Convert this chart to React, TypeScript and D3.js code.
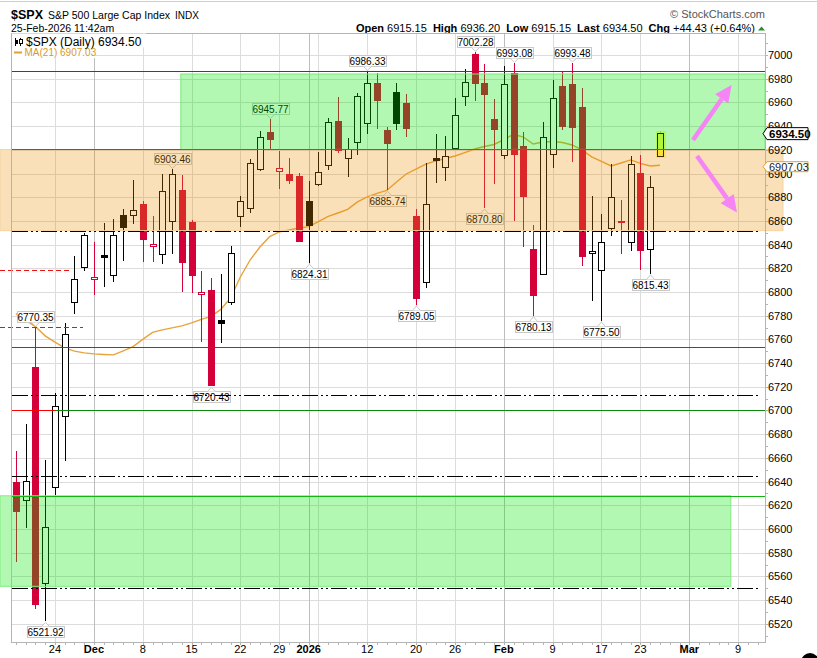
import React from "react";
import * as d3 from "d3";

// trading days shown (Nov 18 2025 .. Feb 25 2026)
const dates = [
  "2025-11-18", "2025-11-19", "2025-11-20", "2025-11-21", "2025-11-24", "2025-11-25", "2025-11-26", "2025-11-28",
  "2025-12-01", "2025-12-02", "2025-12-03", "2025-12-04", "2025-12-05", "2025-12-08", "2025-12-09", "2025-12-10",
  "2025-12-11", "2025-12-12", "2025-12-15", "2025-12-16", "2025-12-17", "2025-12-18", "2025-12-19", "2025-12-22",
  "2025-12-23", "2025-12-24", "2025-12-26", "2025-12-29", "2025-12-30", "2025-12-31", "2026-01-02", "2026-01-05",
  "2026-01-06", "2026-01-07", "2026-01-08", "2026-01-09", "2026-01-12", "2026-01-13", "2026-01-14", "2026-01-15",
  "2026-01-16", "2026-01-20", "2026-01-21", "2026-01-22", "2026-01-23", "2026-01-26", "2026-01-27", "2026-01-28",
  "2026-01-29", "2026-01-30", "2026-02-02", "2026-02-03", "2026-02-04", "2026-02-05", "2026-02-06", "2026-02-09",
  "2026-02-10", "2026-02-11", "2026-02-12", "2026-02-13", "2026-02-17", "2026-02-18", "2026-02-19", "2026-02-20",
  "2026-02-23", "2026-02-24", "2026-02-25",
];
const futureDates = [
  "2026-02-26", "2026-02-27", "2026-03-02", "2026-03-03", "2026-03-04", "2026-03-05", "2026-03-06", "2026-03-09",
  "2026-03-10", "2026-03-11",
];

const opens = [
  6640, 6624.6, 6737, 6554.3, 6635.3, 6695.5, 6791.9, 6820.6, 6810.5, 6831, 6813.8, 6865, 6864.8, 6874.3, 6838.8,
  6831.9, 6859.4, 6886.1, 6859.4, 6798.8, 6801.8, 6776.4, 6791.4, 6864.2, 6870.7, 6903.6, 6934.8, 6901.6, 6899.6,
  6898.2, 6876.8, 6890.9, 6906.6, 6944.6, 6912.9, 6926.4, 6942.4, 6976.6, 6936.7, 6969, 6959.8, 6864.2, 6808.8,
  6913.4, 6905.8, 6921.8, 6964.8, 7000.8, 6976.6, 6946, 6915, 6984.6, 6923.2, 6836.1, 6815.3, 6916.2, 6973.8,
  6975.5, 6955.9, 6832.7, 6818.6, 6853.8, 6859.5, 6842, 6900.7, 6836, 6915.15,
];
const highs = [
  6665.4, 6688.7, 6770.35, 6658.3, 6714.9, 6774.2, 6830.4, 6850.1, 6842.5, 6858.5, 6861.4, 6870, 6894.6, 6877.1,
  6864.2, 6899.4, 6903.46, 6898.8, 6860.8, 6817.8, 6811.6, 6815.3, 6838.9, 6881.3, 6912, 6935.9, 6945.77, 6919.3,
  6912.9, 6900.5, 6894, 6918.4, 6947.1, 6964.3, 6929.7, 6967.7, 6986.33, 6985.1, 6939.5, 6976.1, 6967.1, 6869.8,
  6908.6, 6933.1, 6931.7, 6963.5, 6987.9, 7002.28, 6992.2, 6962.9, 6990.7, 6993.08, 6934.8, 6856.6, 6943.2, 6978.9,
  6985.9, 6993.48, 6971.9, 6881.3, 6865.9, 6908.1, 6877.7, 6914.8, 6915.6, 6897.9, 6936.2,
];
const lows = [
  6572.5, 6601.2, 6532.4, 6521.92, 6628.8, 6657.7, 6781.5, 6817.8, 6797.5, 6804.5, 6808.5, 6826, 6857.2, 6825.6,
  6825.6, 6823.4, 6831.9, 6800.3, 6799.5, 6758.1, 6720.43, 6756.8, 6789, 6855.2, 6867, 6902, 6920.4, 6886.7, 6891.2,
  6842, 6824.31, 6889.5, 6903, 6917.6, 6897.3, 6915.6, 6933.1, 6937.3, 6885.74, 6936.7, 6931.1, 6789.05, 6803.2,
  6892.3, 6894, 6920.4, 6957.2, 6961.4, 6870.8, 6891.2, 6912, 6860.2, 6837.8, 6780.13, 6815.3, 6904.4, 6936.7, 6910,
  6822, 6792.7, 6775.5, 6847.3, 6831.9, 6834.9, 6818.6, 6815.43, 6915.15,
];
const closes = [
  6615.6, 6640.6, 6536.6, 6601.6, 6703.9, 6764.6, 6811, 6847.9, 6812.6, 6829.4, 6847.9, 6855.2, 6869.2, 6845,
  6840.5, 6885, 6899.4, 6825.6, 6814.4, 6800.3, 6721.4, 6773.6, 6832.7, 6877.1, 6908.6, 6930.6, 6928.9, 6904.4,
  6894.5, 6843.1, 6856.6, 6901, 6943.2, 6919.9, 6920.7, 6965.4, 6976.1, 6962.6, 6925.5, 6942.9, 6938.7, 6795.3,
  6874.3, 6912, 6914.8, 6949.4, 6977, 6976.3, 6967.7, 6937.3, 6975.3, 6916.2, 6881.3, 6797, 6930.6, 6963.5, 6940.4,
  6939.5, 6830.4, 6834.7, 6842, 6880, 6860, 6907.8, 6836, 6888.4, 6934.5,
];
const priorClose = 6672.4;

// 21-day moving average as plotted
const ma21 = [
  6781.8, 6776.2, 6770.8, 6763, 6757.7, 6752.8, 6750.1, 6748.6, 6747.8, 6747.3, 6746.9, 6750.3, 6753.9, 6760,
  6765.9, 6768, 6769.7, 6771.4, 6773.9, 6776.9, 6779.4, 6785.3, 6795, 6812.7, 6827, 6838, 6846.7, 6850.7, 6852.4,
  6854, 6855.2, 6859.5, 6863.8, 6866.7, 6869.7, 6876, 6880.2, 6883.2, 6885.7, 6892.9, 6899.6, 6903.8, 6908,
  6910.6, 6912.7, 6914.8, 6917.7, 6920.7, 6922.8, 6924.5, 6928.7, 6933.1, 6930.8, 6924.9, 6926.6, 6927, 6926.2,
  6924.1, 6919.9, 6914, 6910.2, 6906.4, 6908.9, 6911.5, 6908.5, 6906.4, 6907.03,
];

// annotated highs / lows
const markDates = [
  "2025-11-20", "2025-11-21", "2025-12-11", "2025-12-17", "2025-12-26", "2026-01-02", "2026-01-12", "2026-01-14",
  "2026-01-20", "2026-01-28", "2026-01-29", "2026-02-03", "2026-02-05", "2026-02-11", "2026-02-17", "2026-02-24",
];
const markValues = [
  6770.35, 6521.92, 6903.46, 6720.43, 6945.77, 6824.31, 6986.33, 6885.74, 6789.05, 7002.28, 6870.8, 6993.08,
  6780.13, 6993.48, 6775.5, 6815.43,
];
const markSides = [
  "above", "below", "above", "below", "above", "below", "above", "below", "below", "above", "below", "above",
  "below", "above", "below", "below",
];

const yTickValues = [
  6520, 6540, 6560, 6580, 6600, 6620, 6640, 6660, 6680, 6700, 6720, 6740, 6760, 6780, 6800, 6820, 6840, 6860,
  6880, 6900, 6920, 6940, 6960, 6980, 7000,
];
const gridDates = [
  "2025-11-24", "2025-12-01", "2025-12-08", "2025-12-15", "2025-12-22", "2025-12-29", "2026-01-02", "2026-01-05",
  "2026-01-12", "2026-01-20", "2026-01-26", "2026-02-02", "2026-02-09", "2026-02-17", "2026-02-23", "2026-03-02",
  "2026-03-09",
];
const monthDates = ["2025-12-01", "2026-01-02", "2026-02-02", "2026-03-02"];
const tickDates = [
  "2025-11-24", "2025-12-01", "2025-12-08", "2025-12-15", "2025-12-22", "2025-12-29", "2026-01-02", "2026-01-12",
  "2026-01-20", "2026-01-26", "2026-02-02", "2026-02-09", "2026-02-17", "2026-02-23", "2026-03-02", "2026-03-09",
];
const tickLabels = ["24", "Dec", "8", "15", "22", "29", "2026", "12", "20", "26", "Feb", "9", "17", "23", "Mar", "9"];

const W = 817;
const H = 658;
const L = 11.5;
const R = 765;
const T = 33;
const B = 642;
const FONT = '"Liberation Sans", Arial, Helvetica, sans-serif';
const RED = "#d4003a";
const GREEN_FILL = "rgb(0,230,0)";
const ORANGE_FILL = "rgb(232,145,0)";

const allDays = dates.concat(futureDates);
const idx = (d: string) => allDays.indexOf(d);

export default function App() {
  const x = d3.scaleLinear().domain([-0.45, 76.76]).range([L, R]);
  const y = d3.scaleLinear().domain([6504.6, 7018.6]).range([B, T]);
  const px = (i: number) => Math.round(x(i)) + 0.5;
  const py = (v: number) => Math.round(y(v)) + 0.5;

  const maLine = d3
    .line<number>()
    .x((_, i) => x(i))
    .y((v) => y(v))
    .curve(d3.curveLinear)(ma21) as string;

  const arrow = (x1: number, y1: number, x2: number, y2: number, key: string) => {
    const dx = x2 - x1;
    const dy = y2 - y1;
    const len = Math.hypot(dx, dy);
    const ux = dx / len;
    const uy = dy / len;
    const hl = 17;
    const hw = 8;
    const bx = x2 - ux * hl;
    const by = y2 - uy * hl;
    return (
      <g key={key}>
        <line x1={x1} y1={y1} x2={bx} y2={by} stroke="#f584f5" strokeWidth={4.5} />
        <polygon
          points={`${x2},${y2} ${bx - uy * hw},${by + ux * hw} ${bx + uy * hw},${by - ux * hw}`}
          fill="#f584f5"
        />
      </g>
    );
  };

  const dashDot = "16 3 2 3 2 3";

  return (
    <svg
      width={W}
      height={H}
      style={{ position: "absolute", left: 0, top: 0, background: "#fff", fontFamily: FONT }}
    >
      <rect x={0} y={0} width={W} height={H} fill="#fff" />
      <line x1={0} x2={W} y1={1.5} y2={1.5} stroke="#cfcfcf" />

      {/* header */}
      <text x={11} y={19} fontSize={13.5} fontWeight="bold" fill="#000" textLength={32} lengthAdjust="spacingAndGlyphs">
        $SPX
      </text>
      <text x={48} y={19} fontSize={11} fill="#000" textLength={122} lengthAdjust="spacingAndGlyphs">
        S&amp;P 500 Large Cap Index
      </text>
      <text x={175} y={19} fontSize={10} fill="#000">INDX</text>
      <text x={11} y={31.5} fontSize={10.5} fill="#000">25-Feb-2026 11:42am</text>
      <text x={765} y={18} fontSize={11} fill="#555" textAnchor="end">© StockCharts.com</text>
      <text x={755} y={31.5} fontSize={11} fill="#000" textAnchor="end">
        <tspan fontWeight="bold">Open</tspan>
        <tspan> 6915.15 </tspan>
        <tspan fontWeight="bold" dx={3}>High</tspan>
        <tspan> 6936.20 </tspan>
        <tspan fontWeight="bold" dx={3}>Low</tspan>
        <tspan> 6915.15 </tspan>
        <tspan fontWeight="bold" dx={3}>Last</tspan>
        <tspan> 6934.50 </tspan>
        <tspan fontWeight="bold" dx={3}>Chg</tspan>
        <tspan> +44.43 (+0.64%)</tspan>
      </text>
      <polygon points="758,30.5 765,30.5 761.5,26.5" fill="#2e8b2e" />

      {/* grid */}
      <g shapeRendering="crispEdges">
        {yTickValues.map((v) => (
          <line key={`hy${v}`} x1={L} x2={R} y1={py(v)} y2={py(v)} stroke="#dcdcdc" />
        ))}
        {gridDates.map((d) => (
          <line
            key={`gx${d}`}
            x1={px(idx(d))}
            x2={px(idx(d))}
            y1={T}
            y2={B}
            stroke={monthDates.includes(d) ? "#bdbdbd" : "#dcdcdc"}
          />
        ))}
      </g>

      {/* MA(21) */}
      <path d={maLine} fill="none" stroke="#e8a33a" strokeWidth={1.4} />

      {/* candles */}
      <g shapeRendering="crispEdges">
        {dates.map((d, i) => {
          const o = opens[i];
          const c = closes[i];
          const prev = i === 0 ? priorClose : closes[i - 1];
          const last = i === dates.length - 1;
          const col = last ? "#000" : c < prev ? RED : "#000";
          const filled = c < o;
          const cx = px(i);
          const top = y(Math.max(o, c));
          const bot = y(Math.min(o, c));
          const h = Math.max(1, bot - top);
          return (
            <g key={d}>
              <line x1={cx} x2={cx} y1={y(highs[i])} y2={y(lows[i])} stroke={col} />
              {last && (
                <rect x={cx - 5} y={top - 2} width={10} height={h + 4} fill="#ffff66" opacity={0.8} />
              )}
              {h <= 1.5 ? (
                <rect x={cx - 3.5} y={Math.round(top)} width={7} height={2} fill={col} />
              ) : (
                <rect
                  x={cx - 3}
                  y={Math.round(top) + 0.5}
                  width={6}
                  height={Math.round(h)}
                  fill={last ? "#ffff50" : filled ? col : "#fff"}
                  stroke={col}
                />
              )}
            </g>
          );
        })}
      </g>

      {/* high / low callouts */}
      {markDates.map((d, k) => {
        const cx = px(idx(d));
        const vy = y(markValues[k]);
        const bw = 37;
        const bh = 11;
        const above = markSides[k] === "above";
        const by = above ? vy - 5 - bh : vy + 5;
        const pointY = above ? by + bh : by;
        const tipY = above ? pointY + 4 : pointY - 4;
        return (
          <g key={`m${d}`}>
            <rect
              x={Math.round(cx - bw / 2) + 0.5}
              y={Math.round(by) + 0.5}
              width={bw}
              height={bh}
              fill="#fff"
              stroke="#c8c8c8"
            />
            <polyline
              points={`${cx - 4},${Math.round(pointY) + 0.5} ${cx},${tipY} ${cx + 4},${Math.round(pointY) + 0.5}`}
              fill="#fff"
              stroke="#c8c8c8"
            />
            <text x={cx} y={Math.round(by) + 10} fontSize={10} textAnchor="middle" fill="#000">
              {markValues[k].toFixed(2)}
            </text>
          </g>
        );
      })}

      {/* zones */}
      <rect
        x={x(16.9)}
        y={y(6984)}
        width={R - x(16.9)}
        height={y(6920.3) - y(6984)}
        fill={GREEN_FILL}
        fillOpacity={0.3}
        stroke="#7be87b"
      />
      <rect
        x={0}
        y={y(6920.3)}
        width={783}
        height={y(6851.8) - y(6920.3)}
        fill={ORANGE_FILL}
        fillOpacity={0.28}
        stroke="#f3d3a0"
      />
      <rect
        x={0}
        y={y(6628)}
        width={x(73.25)}
        height={y(6551.6) - y(6628)}
        fill={GREEN_FILL}
        fillOpacity={0.3}
        stroke="#80ee80"
      />

      {/* level lines */}
      <g shapeRendering="crispEdges">
        <line x1={L} x2={R} y1={py(6986.2)} y2={py(6986.2)} stroke="#e00000" />
        <line x1={L} x2={x(16.9)} y1={py(6920.3)} y2={py(6920.3)} stroke="#c83a00" />
        <line x1={x(16.9)} x2={R} y1={py(6920.3)} y2={py(6920.3)} stroke="#10a010" />
        <line x1={L} x2={x(4.8)} y1={py(6753.8)} y2={py(6753.8)} stroke="#ff0000" />
        <line x1={x(4.8)} x2={R} y1={py(6753.8)} y2={py(6753.8)} stroke="#0a7a0a" />
        <line x1={L} x2={x(4)} y1={py(6700.3)} y2={py(6700.3)} stroke="#ff0000" />
        <line x1={x(4)} x2={R} y1={py(6700.3)} y2={py(6700.3)} stroke="#0a8a0a" />
        <line x1={L} x2={R} y1={py(6628)} y2={py(6628)} stroke="#14b414" />
        {[6851.5, 6712.9, 6644.6, 6550.1].map((v) => (
          <line key={`dd${v}`} x1={L} x2={R - 4} y1={py(v)} y2={py(v)} stroke="#000" strokeDasharray={dashDot} />
        ))}
        <line x1={0} x2={x(5.8)} y1={py(6818.6)} y2={py(6818.6)} stroke="#ee1111" strokeDasharray="5 3" />
        <line x1={0} x2={x(6.9)} y1={py(6770.35)} y2={py(6770.35)} stroke="#ee1111" strokeDasharray="5 3" />
      </g>

      {/* frame & axes */}
      <g shapeRendering="crispEdges">
        <rect x={L} y={T} width={R - L} height={B - T} fill="none" stroke="#b4b4b4" />
        {allDays.map((d, i) => (
          <line key={`xt${d}`} x1={px(i)} x2={px(i)} y1={B} y2={B + 3} stroke="#b4b4b4" />
        ))}
        {d3.range(6510, 7018, 10).map((v) => (
          <line key={`yt${v}`} x1={R} x2={R + 3} y1={py(v)} y2={py(v)} stroke="#b4b4b4" />
        ))}
      </g>
      {tickDates.map((d, k) => {
        const bold = isNaN(Number(tickLabels[k])) || tickLabels[k] === "2026";
        return (
          <text
            key={`xl${d}`}
            x={x(idx(d))}
            y={653}
            fontSize={11}
            textAnchor="middle"
            fontWeight={bold ? "bold" : "normal"}
            fill="#000"
          >
            {tickLabels[k]}
          </text>
        );
      })}
      {yTickValues.map((v) => (
        <text key={`yl${v}`} x={768} y={y(v) + 4} fontSize={11} fill="#000">
          {v}
        </text>
      ))}

      {/* price tags */}
      <path
        d={`M763,${y(6934.5) + 1} L767,${y(6934.5) - 5} L808,${y(6934.5) - 5} L808,${y(6934.5) + 7} L767,${y(6934.5) + 7} Z`}
        fill="#fff"
        stroke="#000"
      />
      <text x={769} y={y(6934.5) + 5.5} fontSize={11.5} fontWeight="bold" fill="#000">6934.50</text>
      <path
        d={`M763,${y(6907.03) + 1.5} L767,${y(6907.03) - 3.5} L808,${y(6907.03) - 3.5} L808,${y(6907.03) + 6.5} L767,${y(6907.03) + 6.5} Z`}
        fill="#fff"
        stroke="#e0a030"
      />
      <text x={769} y={y(6907.03) + 5.5} fontSize={11} fill="#222">6907.03</text>

      {/* legend */}
      <rect x={12} y={33.5} width={134} height={14} fill="#fff" />
      <rect x={12} y={47} width={83} height={11} fill="#fff" />
      <g shapeRendering="crispEdges">
        <line x1={15.5} x2={15.5} y1={38} y2={46} stroke="#000" />
        <rect x={14.5} y={40} width={3} height={4} fill="#000" />
        <line x1={20.5} x2={20.5} y1={38} y2={46} stroke="#000" />
        <rect x={19.5} y={39} width={3} height={4} fill="#fff" stroke="#000" />
      </g>
      <text x={26} y={45.5} fontSize={12} fill="#000">$SPX (Daily) 6934.50</text>
      <line x1={14} x2={22} y1={52.5} y2={52.5} stroke="#e0a030" strokeWidth={2} />
      <text x={24.5} y={56} fontSize={10} fill="#d99a1c">MA(21) 6907.03</text>

      {/* arrows */}
      {arrow(693, 140, 731.5, 85, "up")}
      {arrow(697, 156, 737, 212.5, "down")}

      <circle cx={810} cy={662} r={9} fill="#000" />
    </svg>
  );
}
